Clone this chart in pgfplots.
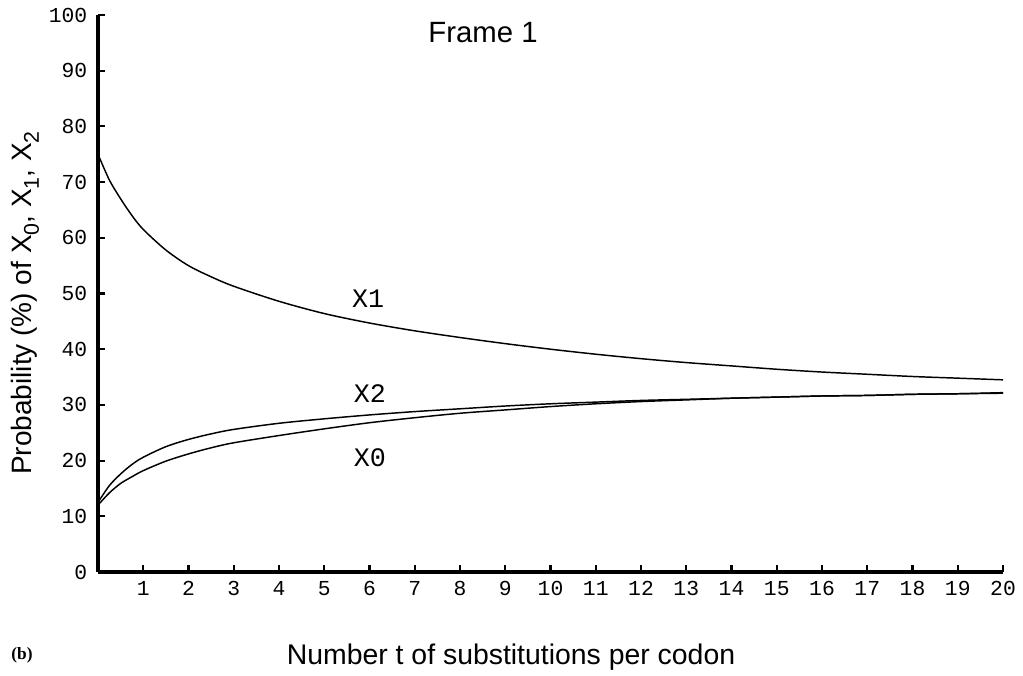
\documentclass[border=0pt]{standalone}
\usepackage{pgfplots}
\pgfplotsset{compat=1.18}
\usepackage{fontspec}
\setmainfont{Liberation Sans}
\newfontfamily\cour{Liberation Mono}
\newfontfamily\tms{Liberation Serif}
\newcommand{\sub}[1]{\raisebox{-0.28em}{\fontsize{16}{16}\selectfont #1}}

\pgfplotstableread{
t y
0 75.0
0.25 70.4
0.5 67.0
0.75 64.0
1.0 61.5
1.5 57.8
2.0 55.0
2.5 53.0
3.0 51.3
4.0 48.6
5.0 46.4
6.0 44.7
7.0 43.3
8.0 42.1
9.0 41.0
10.0 40.0
11.0 39.1
12.0 38.3
13.0 37.6
14.0 37.0
15.0 36.4
16.0 35.9
17.0 35.5
18.0 35.1
19.0 34.8
20.0 34.5
}\xone

\pgfplotstableread{
t y
0 12.5
0.25 15.5
0.5 17.6
0.75 19.3
1.0 20.6
1.5 22.5
2.0 23.8
2.5 24.8
3.0 25.6
4.0 26.7
5.0 27.5
6.0 28.2
7.0 28.8
8.0 29.3
9.0 29.8
10.0 30.2
11.0 30.5
12.0 30.8
13.0 31.0
14.0 31.2
15.0 31.4
16.0 31.6
17.0 31.7
18.0 31.9
19.0 32.0
20.0 32.1
}\xtwo

\pgfplotstableread{
t y
0 12.0
0.25 14.2
0.5 15.9
0.75 17.1
1.0 18.2
1.5 19.9
2.0 21.2
2.5 22.3
3.0 23.2
4.0 24.5
5.0 25.7
6.0 26.8
7.0 27.7
8.0 28.5
9.0 29.1
10.0 29.7
11.0 30.2
12.0 30.6
13.0 30.9
14.0 31.2
15.0 31.4
16.0 31.6
17.0 31.7
18.0 31.9
19.0 32.0
20.0 32.2
}\xzero

\begin{document}
\begin{tikzpicture}
\useasboundingbox (-73.5pt,-77.25pt) rectangle (693.75pt,429pt);
\begin{axis}[
  at={(0pt,0pt)}, anchor=south west,
  scale only axis, width=678.75pt, height=417.75pt,
  xmin=0, xmax=20, ymin=0, ymax=100,
  axis x line=bottom, axis y line=left,
  axis line style={-, line width=2.4pt},
  xtick={1,...,20}, ytick={0,10,...,100},
  tick align=inside, major tick length=5pt,
  tick style={line width=1.6pt, black},
  ticklabel style={font=\cour\fontsize{16}{16}\selectfont},
  yticklabel style={xshift=-4.5pt},
  xticklabel style={yshift=-3.5pt},
  /pgf/number format/assume math mode=true,
  clip=false,
]
\addplot[black, line width=1.1pt, smooth] table[x=t,y=y] {\xone};
\addplot[black, line width=1.1pt, smooth] table[x=t,y=y] {\xtwo};
\addplot[black, line width=1.1pt, smooth] table[x=t,y=y] {\xzero};
\node[font=\cour\fontsize{20}{20}\selectfont] at (axis cs:5.97,49.0) {X1};
\node[font=\cour\fontsize{20}{20}\selectfont] at (axis cs:6.01,32.1) {X2};
\node[font=\cour\fontsize{20}{20}\selectfont] at (axis cs:6.01,20.6) {X0};
\end{axis}
\node[font=\fontsize{22}{22}\selectfont] at (288.75pt,404.25pt) {Frame 1};
\node[font=\fontsize{21.3}{21.3}\selectfont] at (309.75pt,-63.75pt) {Number t of substitutions per codon};
\node[font=\fontsize{21}{21}\selectfont, rotate=90] at (-54.75pt,201.75pt) {Probability (\%) of X\sub{0}, X\sub{1}, X\sub{2}};
\node[font=\tms\bfseries\fontsize{13}{13}\selectfont] at (-57pt,-62.25pt) {(b)};
\end{tikzpicture}
\end{document}
